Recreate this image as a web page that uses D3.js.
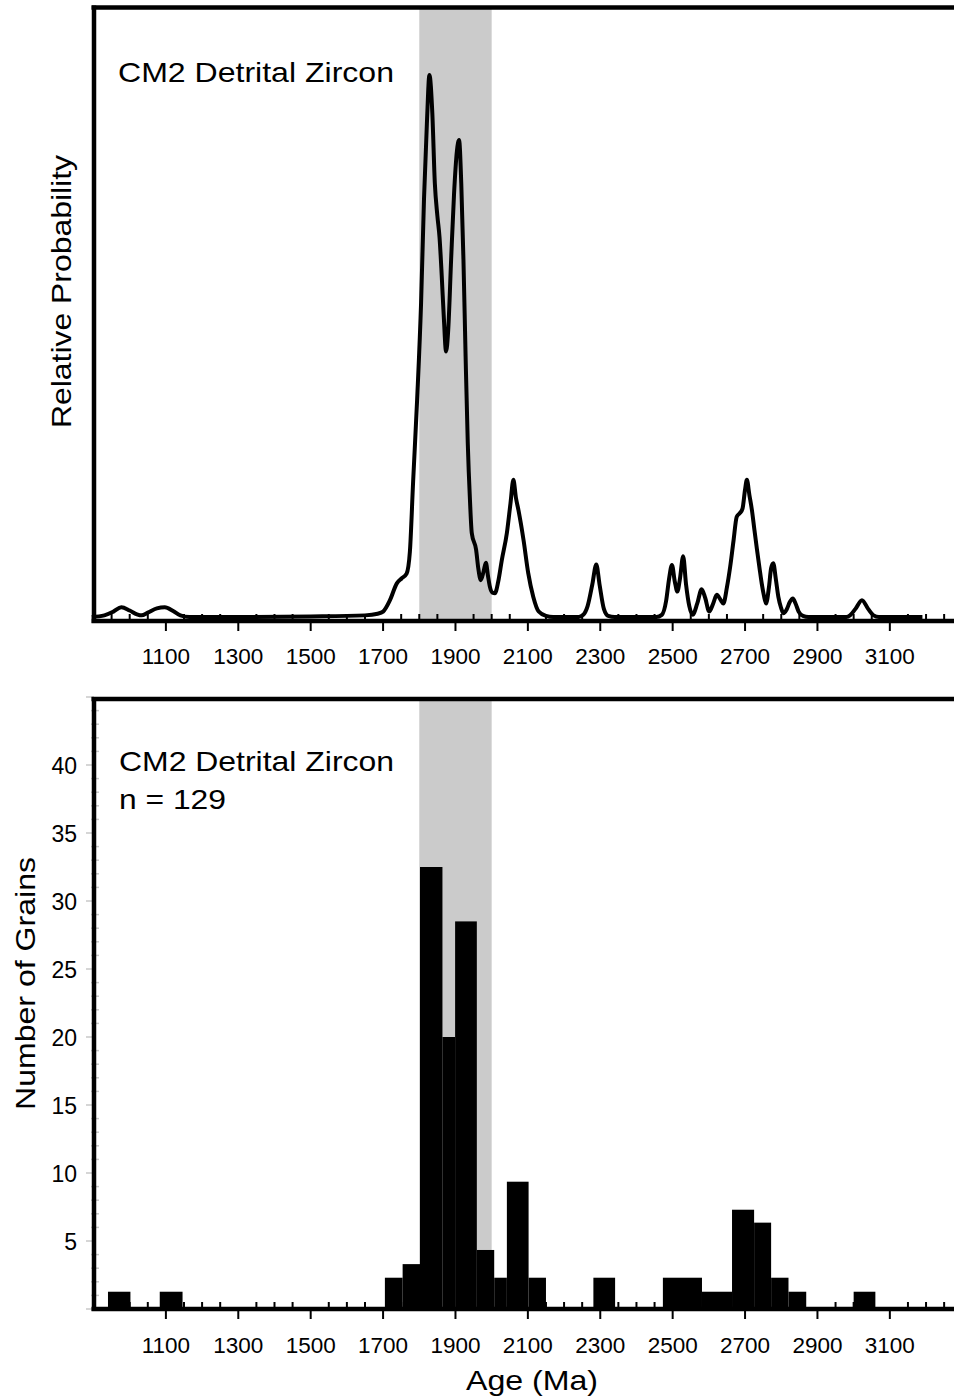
<!DOCTYPE html>
<html><head><meta charset="utf-8">
<script src="https://cdn.jsdelivr.net/npm/d3@7"></script>
<style>body{margin:0;background:#fff}svg{display:block}text{font-family:"Liberation Sans",Arial,sans-serif;fill:#000}</style>
</head><body>
<script>
// ---- data ----
const title = "CM2 Detrital Zircon";
const nLabel = "n = 129";
const highlightBand = [1800, 2000];
// probability curve: ages (Ma) and relative probability (0-100)
const curveAges = [895,930,955,977,1000,1020,1033,1050,1075,1097,1120,1140,1165,1300,1500,1650,1685,1700,1719,1738,1751,1765,1774,1783,1794,1805,1813,1821,1828,1836,1843,1850,1856,1862,1868,1874,1880,1888,1896,1904,1910,1916,1922,1928,1934,1940,1945,1957,1963,1970,1978,1984,1990,1995,2002,2009,2018,2028,2042,2052,2060,2067,2074,2088,2101,2115,2130,2150,2170,2240,2253,2265,2278,2289,2298,2310,2322,2340,2455,2470,2482,2490,2498,2506,2513,2520,2529,2537,2546,2555,2568,2580,2590,2601,2612,2622,2632,2640,2650,2659,2668,2677,2686,2693,2700,2705,2712,2719,2726,2733,2740,2746,2752,2758,2766,2772,2778,2785,2792,2799,2806,2815,2824,2832,2840,2848,2860,2875,2980,2990,3005,3023,3040,3055,3070,3190];
const curveProb = [0,0.3,1.0,1.8,1.2,0.5,0.3,0.8,1.6,1.8,1.1,0.3,0,0,0.1,0.3,0.6,1.0,3.1,6.2,7.1,8.0,12,25,40,58,77,91,100,93,80,74,70,63,55,49,53,66,78,86,88,80,66,48,32,21.6,15.5,12.4,9,6.8,8.5,10,7.5,5.6,4.5,4.4,6.5,10.5,15.5,21,25.3,22,19.7,14.2,8.1,3.7,1.0,0.2,0,0,0.4,2,6,9.7,6,1.5,0.2,0,0,0.4,3,7,9.6,6.5,4.7,7,11.2,6,2,0.4,2.5,5.1,3.5,1.0,2.5,4.1,3.2,2.5,5.5,9.3,14,18.5,19.2,20,23.5,25.3,22.5,19.7,16,12.4,9,6.2,4,2.5,5.5,9,9.9,7,3.7,1.8,0.7,1.4,2.8,3.4,2.4,1.0,0.2,0,0,0.3,1.5,3.1,1.5,0.3,0,0];
// histogram bins (Ma) and grain counts
const binStart = [940,1083,1705,1754,1802,1864,1899,1959,2007,2042,2102,2281,2473,2581,2664,2725,2772,2820,3000];
const binEnd   = [1002,1146,1754,1802,1864,1899,1959,2007,2042,2102,2150,2341,2581,2664,2725,2772,2820,2869,3060];
const binCount = [1.27,1.27,2.3,3.3,32.5,20.0,28.5,4.34,2.3,9.36,2.3,2.3,2.3,1.27,7.3,6.35,2.3,1.27,1.27];
const xLabelTicks = [1100,1300,1500,1700,1900,2100,2300,2500,2700,2900,3100];
const yLabelTicks = [5,10,15,20,25,30,35,40];

// ---- layout ----
const W = 954, H = 1399;
const svg = d3.select("body").append("svg").attr("width", W).attr("height", H);
const x = d3.scaleLinear().domain([900, 3280]).range([93.5, 955]);

function label(g, str, len) {
  return g.append("text").attr("font-size", 28).attr("textLength", len)
    .attr("lengthAdjust", "spacingAndGlyphs").text(str);
}

function drawXAxis(g, yAxis, labelY) {
  const minor = d3.range(900, 3300, 50).filter(v => !xLabelTicks.includes(v));
  g.append("g").selectAll("line").data(minor).join("line")
    .attr("x1", d => x(d)).attr("x2", d => x(d))
    .attr("y1", yAxis - 7).attr("y2", yAxis).attr("stroke", "#000").attr("stroke-width", 2);
  g.append("g").selectAll("line").data(xLabelTicks).join("line")
    .attr("x1", d => x(d)).attr("x2", d => x(d))
    .attr("y1", yAxis).attr("y2", yAxis + 10).attr("stroke", "#000").attr("stroke-width", 2);
  g.append("line").attr("x1", 91.5).attr("x2", W).attr("y1", yAxis).attr("y2", yAxis)
    .attr("stroke", "#000").attr("stroke-width", 4.5);
  g.append("g").selectAll("text").data(xLabelTicks).join("text")
    .attr("x", d => x(d)).attr("y", labelY).attr("text-anchor", "middle")
    .attr("font-size", 22.5).text(d => d);
}

// ---- top panel: probability curve ----
const gTop = svg.append("g");
const yTop = d3.scaleLinear().domain([0, 100]).range([617, 75]);
const topY0 = 7.5, topAxis = 621;
gTop.append("rect").attr("x", x(highlightBand[0])).attr("width", x(highlightBand[1]) - x(highlightBand[0]))
  .attr("y", topY0).attr("height", topAxis - topY0).attr("fill", "#cbcbcb");
const curveData = curveAges.map((a, i) => [a, curveProb[i]]);
gTop.append("path").datum(curveData)
  .attr("d", d3.line().x(d => x(d[0])).y(d => yTop(d[1])).curve(d3.curveMonotoneX))
  .attr("fill", "none").attr("stroke", "#000").attr("stroke-width", 4).attr("stroke-linejoin", "round");
drawXAxis(gTop, topAxis, 664);
gTop.append("line").attr("x1", 91.5).attr("x2", W).attr("y1", topY0).attr("y2", topY0).attr("stroke", "#000").attr("stroke-width", 4.5);
gTop.append("line").attr("x1", 94).attr("x2", 94).attr("y1", topY0 - 2).attr("y2", topAxis + 2).attr("stroke", "#000").attr("stroke-width", 4.5);
label(gTop, title, 276).attr("x", 118).attr("y", 82);
label(gTop, "Relative Probability", 273).attr("text-anchor", "middle")
  .attr("transform", "translate(71,291.5) rotate(-90)");

// ---- bottom panel: histogram ----
const gBot = svg.append("g");
const yBot = d3.scaleLinear().domain([0, 45]).range([1309, 697]);
const botY0 = 699, botAxis = 1309;
gBot.append("rect").attr("x", x(highlightBand[0])).attr("width", x(highlightBand[1]) - x(highlightBand[0]))
  .attr("y", botY0).attr("height", botAxis - botY0).attr("fill", "#cbcbcb");
// y ticks
const yMinor = d3.range(0, 46, 1).filter(v => v % 5 !== 0);
gBot.append("g").selectAll("line").data(yMinor).join("line")
  .attr("x1", 91).attr("x2", 99).attr("y1", d => yBot(d)).attr("y2", d => yBot(d))
  .attr("stroke", "#c8c8c8").attr("stroke-width", 1.5);
gBot.append("g").selectAll("line").data(d3.range(0, 46, 5)).join("line")
  .attr("x1", 86).attr("x2", 94).attr("y1", d => yBot(d)).attr("y2", d => yBot(d))
  .attr("stroke", "#c8c8c8").attr("stroke-width", 1.5);
gBot.append("g").selectAll("text").data(yLabelTicks).join("text")
  .attr("x", 77).attr("y", d => yBot(d) + 8.5).attr("text-anchor", "end")
  .attr("font-size", 23).text(d => d);
gBot.append("g").selectAll("rect").data(binCount).join("rect")
  .attr("x", (d, i) => x(binStart[i])).attr("width", (d, i) => x(binEnd[i]) - x(binStart[i]))
  .attr("y", d => yBot(d)).attr("height", d => yBot(0) - yBot(d)).attr("fill", "#000");
drawXAxis(gBot, botAxis, 1353);
gBot.append("line").attr("x1", 91.5).attr("x2", W).attr("y1", botY0).attr("y2", botY0).attr("stroke", "#000").attr("stroke-width", 4.5);
gBot.append("line").attr("x1", 94).attr("x2", 94).attr("y1", botY0 - 2).attr("y2", botAxis + 2).attr("stroke", "#000").attr("stroke-width", 4.5);
label(gBot, title, 275).attr("x", 119).attr("y", 771);
label(gBot, nLabel, 107).attr("x", 119).attr("y", 809);
label(gBot, "Number of Grains", 253).attr("text-anchor", "middle")
  .attr("transform", "translate(35,983.5) rotate(-90)");
label(gBot, "Age (Ma)", 132).attr("text-anchor", "middle").attr("x", 532).attr("y", 1390);
</script>
</body></html>
